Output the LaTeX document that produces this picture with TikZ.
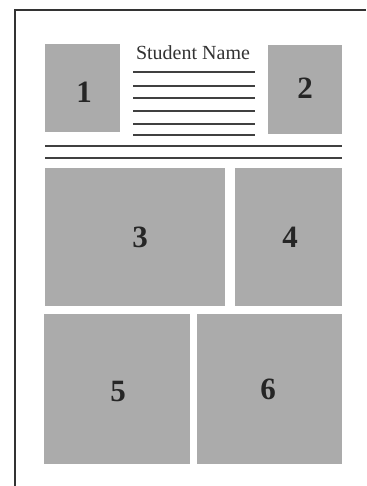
\documentclass[tikz,border=0pt]{standalone}
\usepackage{fontspec}
\setmainfont{Liberation Serif}
\begin{document}
\begin{tikzpicture}[x=1pt,y=-1pt,
  panel/.style={fill=panelgray,draw=none},
  num/.style={font=\fontsize{31}{31}\selectfont\bfseries,text=black!85},
  rule/.style={draw=black!75,line width=1.3pt},
  frame/.style={draw=black!80,line width=1.6pt}]
\definecolor{panelgray}{HTML}{ABABAB}
\useasboundingbox[fill=white] (0,0) rectangle (366,486);
\coordinate (tl) at (15,10);
\coordinate (tr) at (366,10);
\coordinate (bl) at (15,486);
\draw[frame] (tr) -- (tl) -- (bl);
% panels
\path[panel] (45,44) rectangle (120,132);
\path[panel] (268,45) rectangle (342,134);
\path[panel] (45,168) rectangle (225,306);
\path[panel] (235,168) rectangle (342,306);
\path[panel] (44,314) rectangle (190,464);
\path[panel] (197,314) rectangle (342,464);
\node[num] (n1) at (84,92) {1};
\node[num] (n2) at (305,88) {2};
\node[num] (n3) at (140,237) {3};
\node[num] (n4) at (290,237) {4};
\node[num] (n5) at (118,391) {5};
\node[num] (n6) at (268,389) {6};
\node[font=\fontsize{20}{20}\selectfont,text=black!80] (name) at (193,53) {Student Name};
\foreach \y in {72,86,98,111,124,135} \draw[rule] (133,\y) -- (255,\y);
\draw[rule] (45,146) -- (342,146);
\draw[rule] (45,158) -- (342,158);
\end{tikzpicture}
\end{document}
